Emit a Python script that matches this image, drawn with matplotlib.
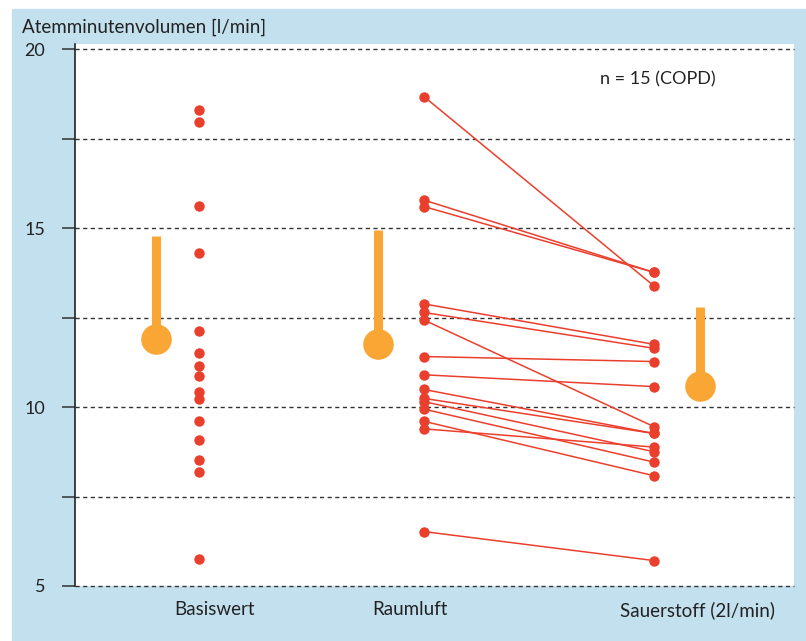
import matplotlib.pyplot as plt
from matplotlib.patches import Rectangle

plt.rcParams['font.family'] = ['Lato', 'DejaVu Sans']

# Daten (Atemminutenvolumen, l/min)
categories = ['Basiswert', 'Raumluft', 'Sauerstoff (2l/min)']
basiswert = [18.29, 17.96, 15.61, 14.30, 12.12, 11.51, 11.15, 10.86,
             10.41, 10.22, 9.62, 9.08, 8.51, 8.19, 5.75]
raumluft = [18.67, 15.78, 15.60, 12.88, 12.64, 12.43, 11.41, 10.90,
            10.49, 10.24, 10.15, 9.94, 9.60, 9.39, 6.52]
sauerstoff = [13.38, 13.76, 13.76, 11.75, 11.64, 9.45, 11.27, 10.57,
              9.26, 9.26, 8.75, 8.46, 8.08, 8.88, 5.71]
means = [11.90, 11.76, 10.59]
mean_plus_sd = [14.79, 14.94, 12.79]
yticks = [5, 7.5, 10, 12.5, 15, 17.5, 20]
ytick_labels = ['5', '', '10', '', '15', '', '20']

red = '#eb3f2d'
orange = '#f9a634'
blue = '#c3e0ee'

# x-Positionen (Achse 0..10)
pos_points = [1.725, 4.854, 8.053]
pos_means = [1.127, 4.214, 8.693]
pos_labels = [1.947, 4.659, 8.651]

fig = plt.figure(figsize=(8.06, 6.41), dpi=100)
bg = Rectangle((12 / 806, 0), 794 / 806, 632 / 641,
               transform=fig.transFigure, color=blue, zorder=-10)
fig.add_artist(bg)
ax = fig.add_axes([75 / 806, 55 / 641, 719 / 806, 542 / 641])
ax.set_zorder(1)
ax.set_facecolor('white')
ax.set_xlim(0, 10)
ax.set_ylim(5, 20.14)

for y in yticks:
    ax.axhline(y, color='#333333', lw=1.0, ls=(0, (3, 2.5)), zorder=1, clip_on=False)

# Verbindungslinien Raumluft -> Sauerstoff
for a, b in zip(raumluft, sauerstoff):
    ax.plot([pos_points[1], pos_points[2]], [a, b], color=red, lw=1.1, zorder=2)

ax.plot([pos_points[0]] * len(basiswert), basiswert, 'o', color=red, ms=7.5, mec='none', zorder=3)
ax.plot([pos_points[1]] * len(raumluft), raumluft, 'o', color=red, ms=7.5, mec='none', zorder=3)
ax.plot([pos_points[2]] * len(sauerstoff), sauerstoff, 'o', color=red, ms=7.5, mec='none', zorder=3)

# Mittelwert + SD
for x, m, top in zip(pos_means, means, mean_plus_sd):
    ax.plot([x, x], [m, top], color=orange, lw=6.5, solid_capstyle='butt', zorder=3)
    ax.plot(x, m, 'o', color=orange, ms=22, mec='none', zorder=4)

for s in ['top', 'right', 'bottom']:
    ax.spines[s].set_visible(False)
ax.spines['left'].set_color('#222222')
ax.spines['left'].set_linewidth(1.2)

ax.set_yticks(yticks)
ax.set_yticklabels(ytick_labels, fontsize=13, color='#222222')
ax.tick_params(axis='y', length=9.5, width=1.1, color='#333333', pad=12)
ax.set_xticks(pos_labels)
ax.set_xticklabels(categories, fontsize=13.5, color='#222222')
ax.tick_params(axis='x', length=0, pad=11)

fig.text(22 / 806, 1 - 27 / 641, 'Atemminutenvolumen [l/min]', fontsize=13.5,
         color='#222222', ha='left', va='center')
ax.text(0.891, 0.934, 'n = 15 (COPD)', transform=ax.transAxes, fontsize=13,
        color='#222222', ha='right', va='center')

fig.savefig('out.png', dpi=100)
